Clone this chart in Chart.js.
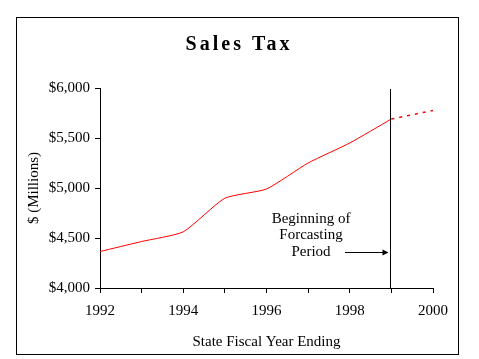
<!DOCTYPE html>
<html>
<head>
<meta charset="utf-8">
<script src="https://cdn.jsdelivr.net/npm/chart.js@4/dist/chart.umd.min.js"></script>
<style>
  html, body { margin: 0; padding: 0; background: #fff; }
  canvas { display: block; }
</style>
</head>
<body>
<canvas id="c" width="479" height="359"></canvas>
<script>
const years = [1992, 1993, 1994, 1995, 1996, 1997, 1998, 1999];
const salesTax = [4365, 4465, 4562, 4898, 4990, 5250, 5450, 5690];
const forecastYears = [1999, 2000];
const forecastValues = [5690, 5775];
const yTicks = [4000, 4500, 5000, 5500, 6000];
const titleText = 'Sales Tax';
const xTitle = 'State Fiscal Year Ending';
const yTitle = '$ (Millions)';
const noteLines = ['Beginning of', 'Forcasting', 'Period'];
const forecastStart = 1999;

const SERIF = '"Liberation Serif", "Times New Roman", serif';

const decor = {
  id: 'decor',
  beforeDraw(chart) {
    const ctx = chart.ctx;
    ctx.save();
    ctx.fillStyle = '#fff';
    ctx.fillRect(0, 0, chart.width, chart.height);
    ctx.strokeStyle = '#000';
    ctx.lineWidth = 1;
    ctx.strokeRect(16.5, 17.5, 442, 337);
    ctx.fillStyle = '#000';
    ctx.font = 'bold 20px ' + SERIF;
    ctx.letterSpacing = '3px';
    ctx.textAlign = 'center';
    ctx.textBaseline = 'middle';
    ctx.fillText(titleText, 239, 45);
    ctx.restore();
  },
  afterDatasetsDraw(chart) {
    const ctx = chart.ctx;
    const xs = chart.scales.x, ys = chart.scales.y;
    const vx = Math.round(xs.getPixelForValue(forecastStart)) - 0.5;
    ctx.save();
    ctx.strokeStyle = '#000';
    ctx.lineWidth = 1;
    ctx.beginPath();
    ctx.moveTo(vx, ys.getPixelForValue(6000) + 1);
    ctx.lineTo(vx, ys.getPixelForValue(4000));
    ctx.stroke();
    ctx.fillStyle = '#000';
    ctx.font = '15px ' + SERIF;
    ctx.textAlign = 'center';
    ctx.textBaseline = 'middle';
    const tx = 311;
    const ty0 = 219;
    noteLines.forEach((t, i) => ctx.fillText(t, tx, ty0 + i * 16.5));
    const ay = 252.5;
    const ax1 = vx - 2;
    ctx.beginPath();
    ctx.moveTo(345, ay);
    ctx.lineTo(ax1 - 4, ay);
    ctx.stroke();
    ctx.beginPath();
    ctx.moveTo(ax1, ay);
    ctx.lineTo(ax1 - 6, ay - 3);
    ctx.lineTo(ax1 - 6, ay + 3);
    ctx.closePath();
    ctx.fill();
    ctx.restore();
  }
};

new Chart(document.getElementById('c'), {
  type: 'line',
  data: {
    datasets: [
      {
        data: years.map((x, i) => ({ x, y: salesTax[i] })),
        borderColor: '#ff0000',
        borderWidth: 1,
        pointRadius: 0,
        tension: 0.18,
        fill: false
      },
      {
        data: forecastYears.map((x, i) => ({ x, y: forecastValues[i] })),
        borderColor: '#ff0000',
        borderWidth: 1.5,
        borderDash: [3, 5],
        pointRadius: 0,
        tension: 0,
        fill: false
      }
    ]
  },
  options: {
    responsive: false,
    animation: false,
    devicePixelRatio: 1,
    layout: { padding: { left: 21, top: 88, right: 46, bottom: 8 } },
    plugins: { legend: { display: false }, tooltip: { enabled: false }, title: { display: false } },
    scales: {
      x: {
        type: 'linear',
        min: 1992,
        max: 2000,
        afterFit(s) { s.height = 359 - 8 - 288; },
        afterBuildTicks(s) { s.ticks = years.concat([2000]).map(v => ({ value: v })); },
        ticks: {
          stepSize: 1,
          autoSkip: false,
          maxRotation: 0,
          padding: 9,
          color: '#000',
          font: { family: SERIF, size: 15 },
          callback: v => (v % 2 === 0 ? String(v) : '')
        },
        grid: { display: true, drawOnChartArea: false, drawTicks: true, tickLength: 5, color: '#000' },
        border: { display: true, color: '#000', width: 1 },
        title: { display: true, text: xTitle, color: '#000', font: { family: SERIF, size: 15 }, padding: { top: 4, bottom: 0 } }
      },
      y: {
        min: 4000,
        max: 6000,
        afterFit(s) { s.width = 79; },
        afterBuildTicks(s) { s.ticks = yTicks.map(v => ({ value: v })); },
        ticks: {
          padding: 5,
          color: '#000',
          font: { family: SERIF, size: 15 },
          callback: v => '$' + Number(v).toLocaleString('en-US')
        },
        grid: { display: true, drawOnChartArea: false, drawTicks: true, tickLength: 5, color: '#000' },
        border: { display: true, color: '#000', width: 1 },
        title: { display: true, text: yTitle, color: '#000', font: { family: SERIF, size: 15 }, padding: { top: 4, bottom: 4 } }
      }
    }
  },
  plugins: [decor]
});
</script>
</body>
</html>
